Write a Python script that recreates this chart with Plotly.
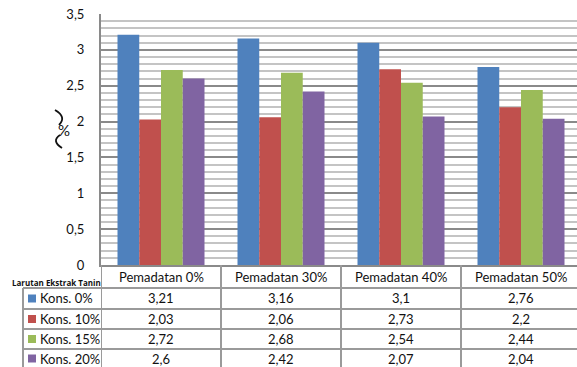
import plotly.graph_objects as go

categories = ["Pemadatan 0%", "Pemadatan 30%", "Pemadatan 40%", "Pemadatan 50%"]
series_names = ["Kons. 0%", "Kons. 10%", "Kons. 15%", "Kons. 20%"]
kons_0 = [3.21, 3.16, 3.1, 2.76]
kons_10 = [2.03, 2.06, 2.73, 2.2]
kons_15 = [2.72, 2.68, 2.54, 2.44]
kons_20 = [2.6, 2.42, 2.07, 2.04]
series_values = [kons_0, kons_10, kons_15, kons_20]
colors = ["#4F81BD", "#C0504D", "#9BBB59", "#8064A2"]
table_title = "Larutan Ekstrak Tanin"
y_ticks = [0, 0.5, 1, 1.5, 2, 2.5, 3, 3.5]

W, H = 577, 367
L, R, T, B = 101, 0, 14, 102
PW = W - L - R
PH = H - T - B
FONT = "Lato"
GRID = "#8a8a8a"
TBL = "#9a9a9a"


def px_x(px):
    return (px - L) / PW


def px_y(py):
    return (H - B - py) / PH


def fmt(v):
    return str(v).replace(".", ",")


def pt(x, y):
    return f"{px_x(x):.5f},{px_y(y):.5f}"


fig = go.Figure()
x_idx = list(range(len(categories)))
for name, vals, col in zip(series_names, series_values, colors):
    fig.add_trace(go.Bar(x=x_idx, y=vals, name=name, marker=dict(color=col, line=dict(width=0))))

cat_w = 120.0
x_max = -0.5 + PW / cat_w

shapes = []
annotations = []

# Table vertical lines (category boundaries)
for i in range(len(categories) + 1):
    shapes.append(dict(type="line", xref="x", yref="paper", x0=i - 0.5, x1=i - 0.5,
                       y0=0, y1=px_y(H), line=dict(color=TBL, width=2)))
# Legend column left border
shapes.append(dict(type="line", xref="paper", yref="paper", x0=px_x(23), x1=px_x(23),
                   y0=px_y(288), y1=px_y(H), line=dict(color=TBL, width=2)))
# Horizontal row lines
row_lines = [288, 309, 329, 349]
for ry in row_lines:
    shapes.append(dict(type="line", xref="paper", yref="paper", x0=px_x(23), x1=1.0,
                       y0=px_y(ry), y1=px_y(ry), line=dict(color=TBL, width=2)))

# Header row
for i, c in enumerate(categories):
    annotations.append(dict(x=i, y=px_y(277), xref="x", yref="paper", text=c, showarrow=False,
                            font=dict(family=FONT, size=13, color="#111"), xanchor="center", yanchor="middle"))
annotations.append(dict(x=px_x(103), y=px_y(282), xref="paper", yref="paper", text="<b>" + table_title + "</b>",
                        showarrow=False, font=dict(family="Open Sans", size=8, color="#111"),
                        xanchor="right", yanchor="middle"))

row_centers = [298.5, 319, 339, 358.5]
for r, (name, vals, col) in enumerate(zip(series_names, series_values, colors)):
    cy = row_centers[r]
    shapes.append(dict(type="rect", xref="paper", yref="paper", x0=px_x(28), x1=px_x(36),
                       y0=px_y(cy + 4), y1=px_y(cy - 4), fillcolor=col, line=dict(width=0)))
    annotations.append(dict(x=px_x(38), y=px_y(cy), xref="paper", yref="paper", text=name, showarrow=False,
                            font=dict(family=FONT, size=13, color="#111"), xanchor="left", yanchor="middle"))
    for i, v in enumerate(vals):
        annotations.append(dict(x=i, y=px_y(cy), xref="x", yref="paper", text=fmt(v), showarrow=False,
                                font=dict(family=FONT, size=13, color="#111"), xanchor="center", yanchor="middle"))

# Y axis title "(%)": stylised brackets as curves, percent sign as text
shapes.append(dict(type="path", xref="paper", yref="paper",
                   path=f"M {pt(55, 110)} Q {pt(67, 117)} {pt(59, 125)}",
                   line=dict(color="#111", width=1.8)))
shapes.append(dict(type="path", xref="paper", yref="paper",
                   path=f"M {pt(60, 135)} Q {pt(51, 141)} {pt(62, 148)}",
                   line=dict(color="#111", width=1.8)))
annotations.append(dict(x=px_x(64), y=px_y(130), xref="paper", yref="paper", text="%",
                        showarrow=False, font=dict(family=FONT, size=15, color="#111"),
                        xanchor="center", yanchor="middle"))

fig.update_layout(
    width=W, height=H,
    margin=dict(l=L, r=R, t=T, b=B, pad=0),
    paper_bgcolor="white", plot_bgcolor="white",
    barmode="group", bargap=0.275, bargroupgap=0,
    showlegend=False,
    separators=",.",
    font=dict(family=FONT, size=13, color="#111"),
    xaxis=dict(range=[-0.5, x_max], showticklabels=False, showgrid=False, zeroline=False,
               showline=True, linecolor=GRID, linewidth=2, ticks=""),
    yaxis=dict(range=[0, 3.5], tickvals=y_ticks, showgrid=True, gridcolor=GRID, gridwidth=1.5,
               zeroline=False, showline=True, linecolor=GRID, linewidth=2, ticks="",
               ticklabelstandoff=12, tickfont=dict(family=FONT, size=13, color="#111"),
               minor=dict(dtick=0.1, showgrid=True, gridcolor="#c4c4c4", gridwidth=1.5)),
    shapes=shapes,
    annotations=annotations,
)

fig.write_html("out.html")
